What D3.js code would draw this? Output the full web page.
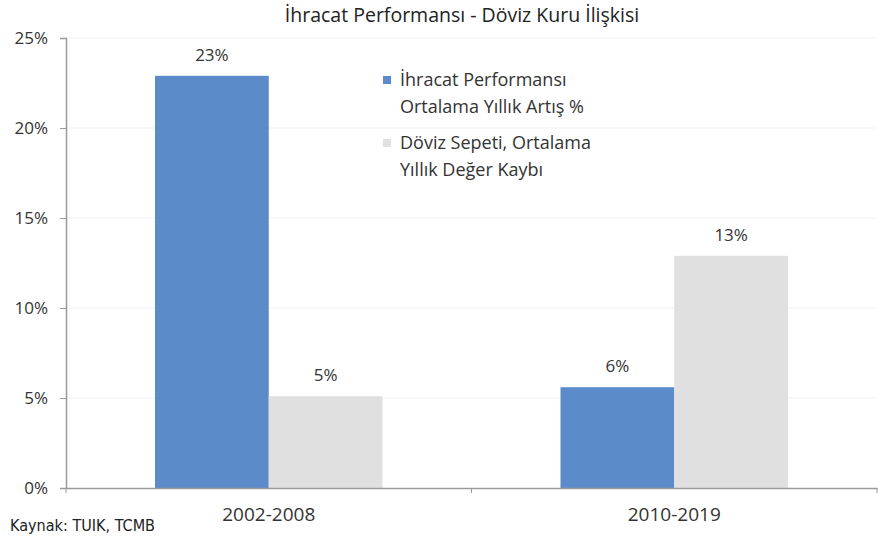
<!DOCTYPE html>
<html>
<head>
<meta charset="utf-8">
<script src="https://cdn.jsdelivr.net/npm/d3@7"></script>
<style>
body { margin: 0; background: #fff; }
svg { font-family: "Open Sans", "Noto Sans", sans-serif; }
</style>
</head>
<body>
<svg id="chart" width="891" height="538"></svg>
<script>
// data
var periods = ["2002-2008", "2010-2019"];
var seriesNames = ["ihracat", "doviz"];
var ihracat = [22.9, 5.6];
var doviz = [5.1, 12.9];
var ihracatLabels = ["23%", "6%"];
var dovizLabels = ["5%", "13%"];
var yTicks = [0, 5, 10, 15, 20, 25];
var legendLines = [["İhracat Performansı", "Ortalama Yıllık Artış %"], ["Döviz Sepeti, Ortalama", "Yıllık Değer Kaybı"]];

var colors = {ihracat: "#5b8bc8", doviz: "#e0e0e0"};

var margin = {top: 38, left: 66, right: 14, bottom: 50};
var width = 891 - margin.left - margin.right;
var height = 538 - margin.top - margin.bottom;

var svg = d3.select("#chart");
var g = svg.append("g").attr("transform", `translate(${margin.left},${margin.top})`);

var x = d3.scaleBand().domain(periods).range([0, width]).paddingInner(0).paddingOuter(0);
var x1 = d3.scaleBand().domain(seriesNames).range([89, x.bandwidth() - 89]);
var y = d3.scaleLinear().domain([0, 25]).range([height, 0]);

// grid
g.append("g").selectAll("line")
	.data(yTicks.slice(1))
	.join("line")
	.attr("x1", 0).attr("x2", width)
	.attr("y1", d => y(d)).attr("y2", d => y(d))
	.attr("stroke", "#f1f1f1");

// bars
var table = periods.map((p, i) => ({
	period: p,
	vals: [
		{key: "ihracat", v: ihracat[i], label: ihracatLabels[i]},
		{key: "doviz", v: doviz[i], label: dovizLabels[i]}
	]
}));

var grp = g.append("g").selectAll("g")
	.data(table)
	.join("g")
	.attr("transform", d => `translate(${x(d.period)},0)`);

grp.selectAll("rect")
	.data(d => d.vals)
	.join("rect")
	.attr("x", d => x1(d.key))
	.attr("width", x1.bandwidth())
	.attr("y", d => y(d.v))
	.attr("height", d => height - y(d.v))
	.attr("fill", d => colors[d.key]);

grp.selectAll("text")
	.data(d => d.vals)
	.join("text")
	.attr("x", d => x1(d.key) + x1.bandwidth() / 2)
	.attr("y", d => y(d.v) - 15)
	.attr("text-anchor", "middle")
	.attr("font-size", 17)
	.attr("fill", "#333")
	.text(d => d.label);

// y axis
var yAxis = g.append("g")
	.call(d3.axisLeft(y).tickValues(yTicks).tickFormat(d => d + "%").tickSize(6).tickPadding(12));
yAxis.select(".domain").attr("stroke", "#9a9a9a").attr("stroke-width", 1.5);
yAxis.selectAll(".tick line").attr("stroke", "#9a9a9a");
yAxis.selectAll("text").attr("font-size", 17).attr("fill", "#333").attr("font-family", "Open Sans, sans-serif");

// x axis
var xAxis = g.append("g")
	.attr("transform", `translate(0,${height})`)
	.call(d3.axisBottom(x).tickSize(0).tickPadding(20));
xAxis.select(".domain").attr("stroke", "#9a9a9a").attr("stroke-width", 1.5);
xAxis.selectAll("text").attr("font-size", 19).attr("fill", "#333").attr("font-family", "Open Sans, sans-serif");
xAxis.selectAll(".sep")
	.data([0, x.bandwidth(), width])
	.join("line")
	.attr("class", "sep")
	.attr("x1", d => d).attr("x2", d => d)
	.attr("y1", 0).attr("y2", 5)
	.attr("stroke", "#9a9a9a");

// title
svg.append("text")
	.attr("x", 462).attr("y", 22)
	.attr("text-anchor", "middle")
	.attr("font-size", 19.5)
	.attr("fill", "#222")
	.text("İhracat Performansı - Döviz Kuru İlişkisi");

// legend
var leg = svg.append("g").attr("transform", "translate(383,86)");
var items = leg.selectAll("g")
	.data(seriesNames)
	.join("g")
	.attr("transform", (d, i) => `translate(0,${i * 63})`);
items.append("rect")
	.attr("x", 0).attr("y", -10)
	.attr("width", 8).attr("height", 8)
	.attr("fill", d => colors[d]);
items.selectAll("text")
	.data((d, i) => legendLines[i])
	.join("text")
	.attr("x", 17)
	.attr("y", (d, j) => j * 27)
	.attr("font-size", 18)
	.attr("fill", "#333")
	.text(d => d);

// source
svg.append("text")
	.attr("x", 10).attr("y", 531)
	.attr("font-size", 15)
	.attr("font-family", "DejaVu Sans, sans-serif")
	.attr("font-stretch", "condensed")
	.attr("textLength", 145)
	.attr("lengthAdjust", "spacingAndGlyphs")
	.attr("fill", "#222")
	.text("Kaynak: TUIK, TCMB");
</script>
</body>
</html>
